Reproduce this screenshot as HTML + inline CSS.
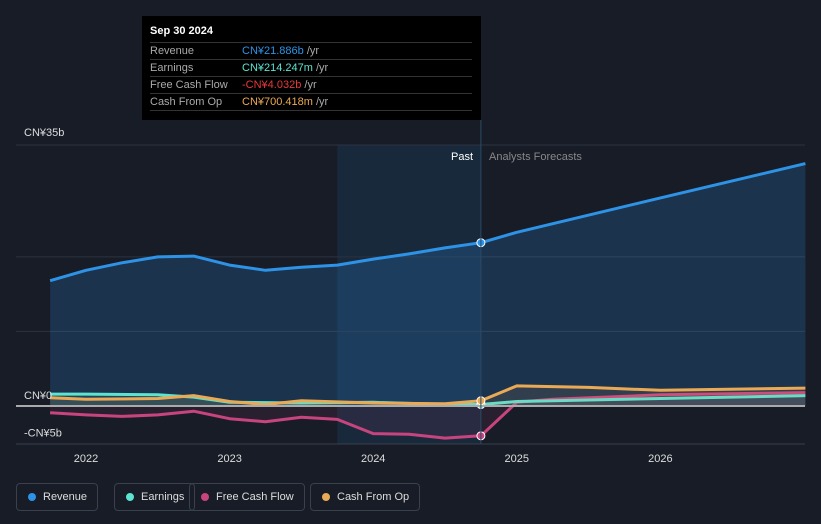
<!DOCTYPE html>
<html><head><meta charset="utf-8"><style>
body{margin:0;background:#171c26;width:821px;height:524px;overflow:hidden;font-family:"Liberation Sans","Noto Sans CJK SC",sans-serif}
svg{position:absolute;left:0;top:0}
.tip{position:absolute;left:142px;top:16px;width:339px;height:104px;background:#000;color:#aaa;font-size:11px}
.tip .h{color:#fff;font-weight:bold;padding:9px 0 0 8px;height:17px}
.row{margin:0 9px 0 8px;border-top:1px solid #333;height:16px;line-height:16px;display:flex}
.row span:first-child{width:92px}
.legend{position:absolute;top:483px;height:26px;border:1px solid #3a404c;border-radius:4px;color:#ddd;font-size:11px;line-height:26px;padding:0 10px 0 26px}
.legend i{position:absolute;left:11px;top:9px;width:8px;height:8px;border-radius:50%}
</style></head><body>
<svg width="821" height="524" id="chart"></svg>
<div class="tip">
<div class="h">Sep 30 2024</div>
<div class="row"><span>Revenue</span><span><b style="font-weight:normal;color:#2e93e6">CN¥21.886b</b> /yr</span></div>
<div class="row"><span>Earnings</span><span><b style="font-weight:normal;color:#5de3d1">CN¥214.247m</b> /yr</span></div>
<div class="row"><span>Free Cash Flow</span><span><b style="font-weight:normal;color:#e8383d">-CN¥4.032b</b> /yr</span></div>
<div class="row" style="border-bottom:1px solid #333"><span>Cash From Op</span><span><b style="font-weight:normal;color:#eaaa55">CN¥700.418m</b> /yr</span></div>
</div>
<div class="legend" style="left:16px"><i style="background:#2e93e6"></i>Revenue</div>
<div class="legend" style="left:114px"><i style="background:#5de3d1"></i>Earnings</div>
<div class="legend" style="left:189px"><i style="background:#c8447f"></i>Free Cash Flow</div>
<div class="legend" style="left:310px"><i style="background:#eaaa55"></i>Cash From Op</div>
<script>
const revX=[2021.75,2022,2022.25,2022.5,2022.75,2023,2023.25,2023.5,2023.75,2024,2024.25,2024.5,2024.75,2025,2026,2027.01];
const revV=[16.8,18.2,19.2,20,20.1,18.9,18.2,18.6,18.9,19.7,20.4,21.2,21.9,23.3,27.9,32.5];
const earnX=[2021.75,2022,2022.5,2022.75,2023,2023.5,2024,2024.5,2024.75,2025,2026,2027.01];
const earnV=[1.6,1.6,1.5,1.2,0.5,0.4,0.5,0.2,0.2,0.6,1.0,1.4];
const fcfX=[2021.75,2022,2022.25,2022.5,2022.75,2023,2023.25,2023.5,2023.75,2024,2024.25,2024.5,2024.75,2025,2025.25,2026,2027.01];
const fcfV=[-0.9,-1.2,-1.4,-1.2,-0.7,-1.7,-2.1,-1.5,-1.8,-3.7,-3.8,-4.3,-4.0,0.5,0.9,1.5,1.8];
const cfoX=[2021.75,2022,2022.5,2022.75,2023,2023.25,2023.5,2024,2024.5,2024.75,2025,2025.5,2026,2027.01];
const cfoV=[1.1,0.9,1.0,1.4,0.6,0.2,0.7,0.4,0.3,0.7,2.7,2.5,2.1,2.4];
const yearTicks=[2022,2023,2024,2025,2026];
const yTicks=[35,0,-5];
const yLabels=["CN¥35b","CN¥0","-CN¥5b"];
const X=t=>86+(t-2022)*143.6, Y=v=>406-v*7.457;
const s=document.getElementById('chart'),NS='http://www.w3.org/2000/svg';
function el(tag,a,p){const e=document.createElementNS(NS,tag);for(const k in a)e.setAttribute(k,a[k]);(p||s).appendChild(e);return e;}
let r=el('rect',{x:X(2023.75),y:145,width:X(2024.75)-X(2023.75),height:299,fill:'#1a3550',opacity:0.5});

[10,20,35].forEach(v=>{let l=el('line',{x1:16,x2:805,y1:Y(v),y2:Y(v),stroke:'#2c3340'});});
let ax=el('line',{x1:16,x2:805,y1:444,y2:444,stroke:'#3a404c'});
const pts=(xs,vs)=>xs.map((t,i)=>X(t).toFixed(1)+','+Y(vs[i]).toFixed(1));
function line(xs,vs,c,name){
 let a=el('polygon',{points:X(xs[0])+','+Y(0)+' '+pts(xs,vs).join(' ')+' '+X(xs[xs.length-1])+','+Y(0),fill:c,opacity:name=='revenue'?0.2:0.1});
 
 let p=el('polyline',{points:pts(xs,vs).join(' '),fill:'none',stroke:c,'stroke-width':3,'stroke-linejoin':'round'});
 
 const i=xs.indexOf(2024.75);
 let m=el('circle',{cx:X(2024.75),cy:Y(vs[i]),r:4,fill:c,stroke:'#fff','stroke-width':1});
 
}
line(revX,revV,'#2e93e6','revenue');
line(fcfX,fcfV,'#c8447f','free-cash-flow');
line(earnX,earnV,'#5de3d1','earnings');
line(cfoX,cfoV,'#eaaa55','cash-from-op');
let z=el('line',{x1:16,x2:805,y1:Y(0),y2:Y(0),stroke:'#aaa','stroke-width':2});
let vl=el('line',{x1:X(2024.75),x2:X(2024.75),y1:120,y2:444,stroke:'#2a4a66'});
yearTicks.forEach(t=>{let e=el('text',{x:X(t),y:462,fill:'#ddd','font-size':11,'text-anchor':'middle'});e.textContent=t;});
yTicks.forEach((v,i)=>{let e=el('text',{x:24,y:Y(v)+(v==35?-9:-7),fill:'#ddd','font-size':11});e.textContent=yLabels[i];});
let pt=el('text',{x:473,y:160,fill:'#fff','font-size':11,'text-anchor':'end'});pt.textContent='Past';
let ft=el('text',{x:489,y:160,fill:'#888','font-size':11});ft.textContent='Analysts Forecasts';
</script>
</body></html>
